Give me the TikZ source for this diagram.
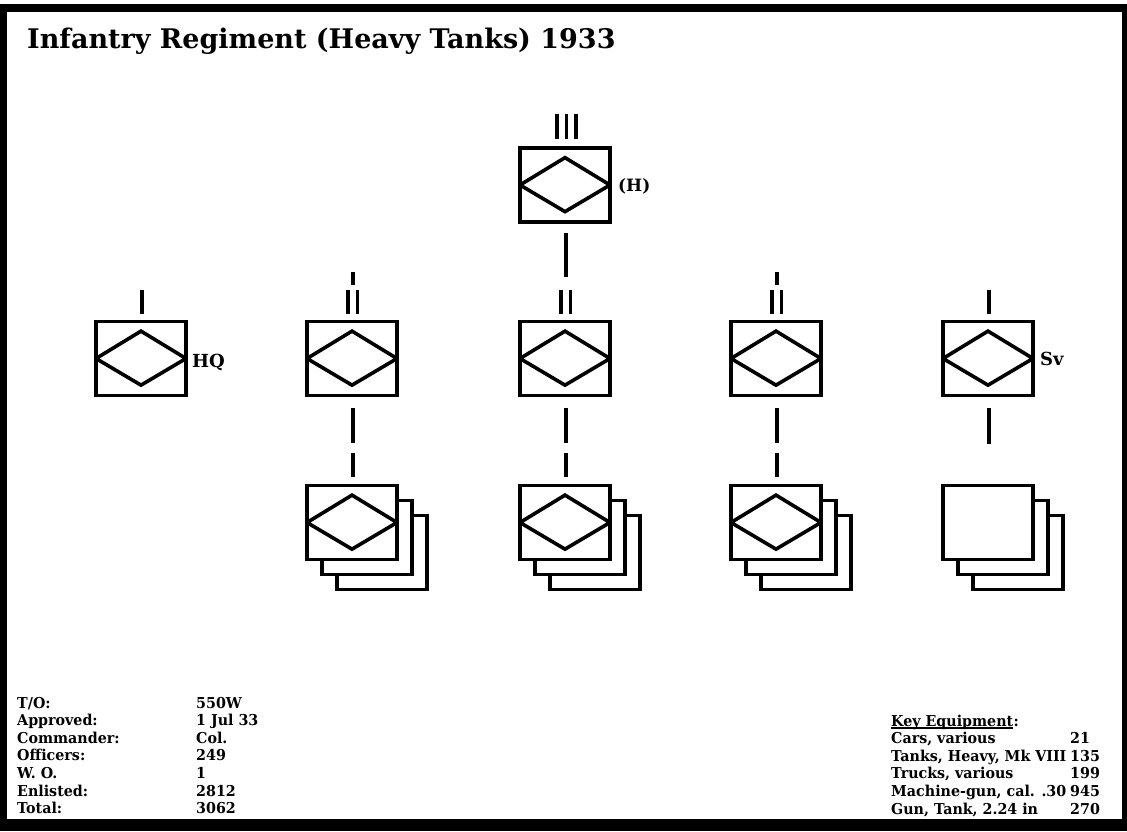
\documentclass[tikz,border=0pt]{standalone}
\usepackage{fontspec}
\setmainfont{DejaVu Serif}
\newfontfamily\infofont{DejaVu Serif}[FakeStretch=0.95]
\usepackage{tikz}
\usetikzlibrary{calc}
\tikzset{
  box/.style={rectangle, draw=black, fill=white, line width=3.6pt,
    minimum width=90pt, minimum height=74pt, inner sep=0pt, outer sep=0pt},
  unit/.style={box, path picture={
    \draw[line width=3.6pt]
      (path picture bounding box.west)
      -- ($(path picture bounding box.north)!0.13!(path picture bounding box.south)$)
      -- (path picture bounding box.east)
      -- ($(path picture bounding box.south)!0.14!(path picture bounding box.north)$)
      -- cycle;}},
  echelon/.style={line width=3.8pt, color=black},
  link/.style={line width=3.8pt, color=black},
  title/.style={font=\fontsize{27}{32}\selectfont\bfseries, anchor=base west, inner sep=0pt},
  lbl/.style={font=\fontsize{18}{21}\selectfont\bfseries, anchor=base west, inner sep=0pt},
  info/.style={font=\fontsize{15}{17.6}\selectfont\infofont\bfseries, anchor=base west, inner sep=0pt}
}

\begin{document}
\begin{tikzpicture}[x=1pt, y=-1pt]
  \useasboundingbox (0,0) rectangle (1127,831);
  % ── Frame ──────────────────────────────────────────────────────────────
  \fill[black] (0,3.5) rectangle (1127,831);
  \fill[white] (7,12) rectangle (1122,819);
  \node[title] (title) at (27,48) {Infantry Regiment (Heavy Tanks) 1933};

  % ── Regiment ───────────────────────────────────────────────────────────
  \node[unit] (reg) at (565,185) {};
  \foreach \dx in {-8,1.5,11}
    \draw[echelon] ($(reg.north)+(\dx,-9)$) -- ++(0,-25);
  \node[lbl, font=\fontsize{17}{20}\selectfont\bfseries] (reglbl) at ($(reg.east)+(8,6)$) {(H)};

  % ── Battalions and companies (middle row) ──────────────────────────────
  \node[unit] (hq) at (141,358.5) {};
  \node[unit] (bn1) at (352,358.5) {};
  \node[unit] (bn2) at (565,358.5) {};
  \node[unit] (bn3) at (776,358.5) {};
  \node[unit] (sv) at (988,358.5) {};
  \node[lbl] (hqlbl) at ($(hq.east)+(6,8.5)$) {HQ};
  \node[lbl] (svlbl) at ($(sv.east)+(7,6.5)$) {Sv};
  % single marks
  \draw[echelon] ($(hq.north)+(1,-8)$) -- ++(0,-24);
  \draw[echelon] ($(sv.north)+(1,-8)$) -- ++(0,-24);
  % double marks
  \foreach \bn in {bn1,bn2,bn3} {
    \draw[echelon] ($(\bn.north)+(-4,-8)$) -- ++(0,-24);
    \draw[echelon] ($(\bn.north)+(5.5,-8)$) -- ++(0,-24);
  }
  % cut connectors above the outer battalions
  \draw[link] ($(bn1.north)+(1,-37)$) -- ++(0,-13);
  \draw[link] ($(bn3.north)+(1,-37)$) -- ++(0,-13);
  \draw[link, shorten <=11pt, shorten >=45pt] ($(reg.south)+(1,0)$) -- ($(bn2.north)+(1,0)$);

  % ── Company stacks (bottom row) ────────────────────────────────────────
  \foreach \bn/\x in {1/352, 2/565, 3/776} {
    \node[box] (co\bn c) at (\x+30,552.5) {};
    \node[box] (co\bn b) at (\x+15,537.5) {};
    \node[unit] (co\bn) at (\x,522.5) {};
    \draw[echelon] ($(co\bn.north)+(1,-9)$) -- ++(0,-24);
    \draw[link, shorten <=12pt, shorten >=43pt] ($(bn\bn.south)+(1,0)$) -- ($(co\bn.north)+(1,0)$);
  }
  \node[box] (svcc) at (1018,552.5) {};
  \node[box] (svcb) at (1003,537.5) {};
  \node[box] (svc) at (988,522.5) {};
  \draw[link, shorten <=12pt, shorten >=42pt] ($(sv.south)+(1,0)$) -- ($(svc.north)+(1,0)$);

  % ── Strength table (bottom left) ───────────────────────────────────────
  \foreach \lab/\val [count=\i] in {{T/O:}/550W, Approved:/{1 Jul 33}, Commander:/Col.,
      Officers:/249, {W. O.}/1, Enlisted:/2812, Total:/3062} {
    \node[info] (lab\i) at (17,{690.4+17.6*\i}) {\lab};
    \node[info] (val\i) at (196,{690.4+17.6*\i}) {\val};
  }

  % ── Key equipment (bottom right) ───────────────────────────────────────
  \node[info] (keyhdr) at (891,726) {Key Equipment};
  \node[info] (keycolon) at (keyhdr.base east) {:};
  \draw[line width=1.3pt] ($(keyhdr.base west)+(0,2)$) -- ($(keyhdr.base east)+(0,2)$);
  \foreach \item/\num [count=\i] in {{Cars, various}/21, {Tanks, Heavy, Mk VIII}/135,
      {Trucks, various}/199, {Machine-gun, cal. .30}/945, {Gun, Tank, 2.24 in}/270} {
    \node[info] (item\i) at (891,{726+17.6*\i}) {\item};
    \node[info] (num\i) at (1070,{726+17.6*\i}) {\num};
  }
\end{tikzpicture}
\end{document}
